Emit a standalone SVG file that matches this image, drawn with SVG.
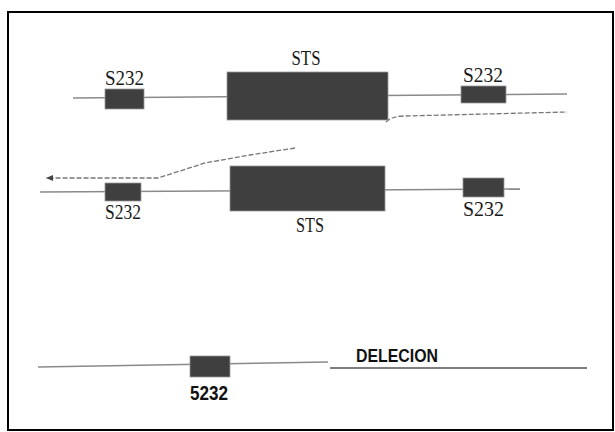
<svg xmlns="http://www.w3.org/2000/svg" width="615" height="432" viewBox="0 0 615 432">
<style>
.box{fill:#3f3f3f;stroke:#9a9a9a;stroke-width:0.8}
.lbl{font-family:"Liberation Serif",serif;font-size:21px;fill:#1a1a1a;text-anchor:middle}
.bl{font-family:"Liberation Sans",Arial,sans-serif;font-weight:bold;fill:#111}
.line{stroke:#8a8a8a;stroke-width:1.5;fill:none}
.dash{stroke:#777;stroke-width:1.3;fill:none;stroke-dasharray:5 2}
</style>
<defs>
<marker id="ah" markerWidth="8" markerHeight="8" refX="7" refY="4" orient="auto" markerUnits="userSpaceOnUse">
<path d="M0,1 L7,4 L0,7 Z" fill="#444"/>
</marker>
</defs>
<rect x="8" y="12" width="605" height="418" fill="#fff" stroke="#000" stroke-width="2"/>
<g id="connectors">
<line class="line" x1="73" y1="98" x2="567" y2="94"/>
<path class="dash" d="M386,122 Q392,116 405,116 L567,112"/>
<line class="line" x1="40" y1="192" x2="520" y2="189"/>
<path class="dash" d="M295,148 L250,155 L205,163 L158,178 L46,178" marker-end="url(#ah)"/>
<line class="line" x1="38" y1="367" x2="328" y2="362"/>
<line x1="330" y1="368" x2="587" y2="368" stroke="#000" stroke-width="1.2"/>
</g>
<g id="n1-s232a"><rect class="box" x="105" y="89" width="39" height="20"/><text class="lbl" x="124.5" y="85" textLength="39" lengthAdjust="spacingAndGlyphs">S232</text></g>
<g id="n1-sts"><rect class="box" x="227" y="72" width="161" height="48"/><text class="lbl" x="306" y="65" textLength="29" lengthAdjust="spacingAndGlyphs">STS</text></g>
<g id="n1-s232b"><rect class="box" x="461" y="86" width="45" height="17"/><text class="lbl" x="483" y="82" textLength="40" lengthAdjust="spacingAndGlyphs">S232</text></g>
<g id="n2-s232a"><rect class="box" x="105" y="183" width="36" height="18"/><text class="lbl" x="123" y="219" textLength="36" lengthAdjust="spacingAndGlyphs">S232</text></g>
<g id="n2-sts"><rect class="box" x="230" y="166" width="155" height="45"/><text class="lbl" x="310" y="232" textLength="28" lengthAdjust="spacingAndGlyphs">STS</text></g>
<g id="n2-s232b"><rect class="box" x="463" y="178" width="41" height="19"/><text class="lbl" x="483.5" y="216" textLength="41" lengthAdjust="spacingAndGlyphs">S232</text></g>
<g id="n3-5232"><rect class="box" x="190" y="356" width="40" height="21"/><text class="bl" x="209" y="400" font-size="21" text-anchor="middle" textLength="38" lengthAdjust="spacingAndGlyphs">5232</text></g>
<g id="n3-delecion"><text class="bl" x="356" y="362" font-size="18" textLength="82" lengthAdjust="spacingAndGlyphs">DELECION</text></g>
</svg>
